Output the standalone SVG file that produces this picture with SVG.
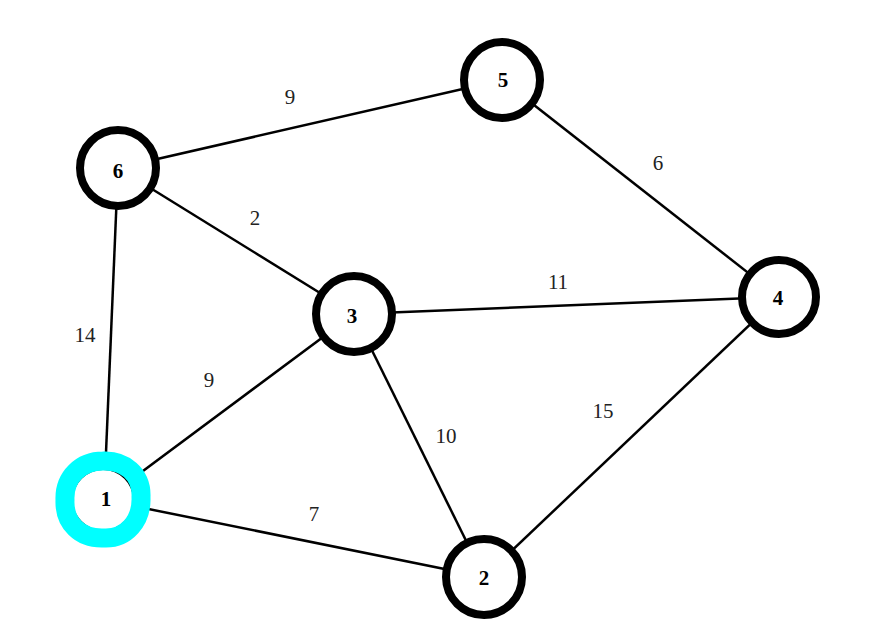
<svg xmlns="http://www.w3.org/2000/svg" width="870" height="641" viewBox="0 0 870 641">
<style>
.e{stroke:#000;stroke-width:2.5;fill:none}
.n{fill:#fff;stroke:#000;stroke-width:8}
.nl{font-family:"Liberation Serif",serif;font-weight:bold;font-size:21px;text-anchor:middle;dominant-baseline:central;fill:#000}
.el{font-family:"Liberation Serif",serif;font-size:21px;text-anchor:middle;dominant-baseline:central;fill:#222}
</style>
<rect width="870" height="641" fill="#fff"/>
<g id="edges">
<line class="e" x1="118" y1="168" x2="502" y2="80"/>
<line class="e" x1="502" y1="80" x2="779" y2="297"/>
<line class="e" x1="118" y1="168" x2="354" y2="314"/>
<line class="e" x1="354" y1="314" x2="779" y2="297"/>
<line class="e" x1="118" y1="168" x2="104" y2="500"/>
<line class="e" x1="104" y1="500" x2="354" y2="314"/>
<line class="e" x1="354" y1="314" x2="484" y2="577"/>
<line class="e" x1="484" y1="577" x2="779" y2="297"/>
<line class="e" x1="104" y1="500" x2="484" y2="577"/>
</g>
<g id="edge-labels">
<text class="el" x="290" y="97">9</text>
<text class="el" x="658" y="163">6</text>
<text class="el" x="255" y="218">2</text>
<text class="el" x="558" y="282">11</text>
<text class="el" x="85" y="335">14</text>
<text class="el" x="209" y="380">9</text>
<text class="el" x="446" y="436">10</text>
<text class="el" x="603" y="411">15</text>
<text class="el" x="314" y="514">7</text>
</g>
<g id="node6"><circle class="n" cx="118" cy="168" r="38"/><text class="nl" x="118" y="171">6</text></g>
<g id="node5"><circle class="n" cx="502" cy="80" r="38"/><text class="nl" x="503" y="80">5</text></g>
<g id="node3"><circle class="n" cx="354" cy="314" r="38"/><text class="nl" x="352" y="316">3</text></g>
<g id="node4"><circle class="n" cx="779" cy="297" r="37"/><text class="nl" x="778" y="298">4</text></g>
<g id="node2"><circle class="n" cx="484" cy="577" r="38"/><text class="nl" x="484" y="578">2</text></g>
<g id="node1"><circle cx="103" cy="500" r="31" fill="#fff" stroke="#000" stroke-width="2"/><path d="M103,461 C124,460 142,474 141,497 C142,521 126,539 104,538 C80,539 64,523 65,500 C64,477 81,461 103,461 Z" fill="none" stroke="#00ffff" stroke-width="19"/><text class="nl" x="106" y="499">1</text></g>
</svg>
